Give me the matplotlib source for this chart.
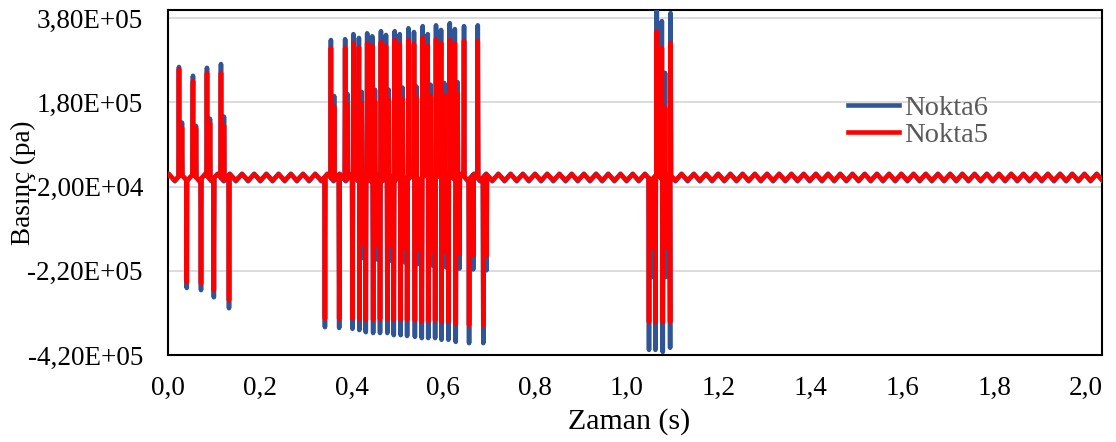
import numpy as np
import matplotlib
matplotlib.use("Agg")
import matplotlib.pyplot as plt
from matplotlib.ticker import FuncFormatter, MultipleLocator

# Background pressure ripple: alternating trough / crest levels (Pa)
ripple_start = -0.0116        # time of first trough (s)
ripple_half_period = 0.0133   # spacing between successive extremes (s)
ripple_end = 2.06
ripple_n6 = [-7500, 10500]    # trough, crest
ripple_n5 = [-5000, 9000]

# Pressure spikes: time (s), Nokta6 peak (Pa), Nokta5 peak (Pa)
spike_t = [
    0.024, 0.0305, 0.041, 0.0545, 0.061, 0.072, 0.085, 0.0915, 0.100, 0.1155, 0.122, 0.133,
    0.342, 0.355, 0.362, 0.373, 0.386, 0.391, 0.402, 0.404, 0.416, 0.417, 0.422, 0.424,
    0.431, 0.434, 0.445, 0.447, 0.451, 0.455, 0.462, 0.464, 0.475, 0.478, 0.481, 0.485,
    0.492, 0.494, 0.505, 0.507, 0.511, 0.516, 0.521, 0.524, 0.536, 0.538, 0.541, 0.545,
    0.553, 0.555, 0.566, 0.567, 0.572, 0.577, 0.582, 0.584, 0.595, 0.596, 0.602, 0.606,
    0.611, 0.614, 0.625, 0.627, 0.631, 0.635, 0.645, 0.656, 0.665, 0.675, 0.687, 0.694,
    1.048, 1.055, 1.062, 1.065, 1.076, 1.078, 1.083, 1.0845, 1.094, 1.095,
]
spike_n6 = [
    264e3, 132e3, -261e3, 243e3, 124e3, -266e3, 262e3, 141e3, -283e3, 271e3, 146e3, -309e3,
    -354e3, 328e3, 195e3, -356e3, 330e3, 200e3, -358e3, 342e3, 333e3, -361e3, 205e3, -190e3,
    -366e3, 344e3, 337e3, -368e3, 210e3, -193e3, -368e3, 349e3, 340e3, -368e3, 210e3, -196e3,
    -373e3, 349e3, 342e3, -373e3, 215e3, -200e3, -375e3, 356e3, 347e3, -377e3, 218e3, -204e3,
    -380e3, 361e3, 342e3, -380e3, 222e3, -208e3, -380e3, 363e3, 352e3, -384e3, 226e3, -212e3,
    -384e3, 368e3, 354e3, -389e3, 228e3, -215e3, 361e3, -392e3, -217e3, 363e3, -392e3, -219e3,
    -408e3, -235e3, -408e3, 398e3, 373e3, -413e3, 250e3, -235e3, -403e3, 392e3,
]
spike_n5 = [
    259e3, 120e3, -247e3, 231e3, 118e3, -250e3, 250e3, 131e3, -266e3, 250e3, 125e3, -290e3,
    -334e3, 309e3, 170e3, -334e3, 309e3, 175e3, -333e3, 321e3, 311e3, -334e3, 178e3, -155e3,
    -337e3, 321e3, 314e3, -337e3, 182e3, -158e3, -335e3, 323e3, 314e3, -334e3, 185e3, -161e3,
    -337e3, 328e3, 318e3, -336e3, 188e3, -165e3, -337e3, 328e3, 318e3, -338e3, 190e3, -169e3,
    -340e3, 333e3, 314e3, -339e3, 195e3, -173e3, -338e3, 330e3, 321e3, -341e3, 198e3, -177e3,
    -341e3, 328e3, 321e3, -346e3, 200e3, -180e3, 326e3, -349e3, -182e3, 326e3, -349e3, -185e3,
    -342e3, -165e3, -342e3, 349e3, 309e3, -342e3, 167e3, -165e3, -342e3, 321e3,
]

x_ticks_step = 0.2
y_ticks = [-4.2e5, -2.2e5, -2.0e4, 1.8e5, 3.8e5]

BLUE = "#2F5597"
RED = "#FF0000"
SPIKE_HALF_WIDTH = 0.0009


def build_series(levels, peaks):
    t_r = np.arange(ripple_start, ripple_end, ripple_half_period)
    v_r = np.resize(np.asarray(levels, dtype=float), t_r.size)
    ts, vs = [t_r], [v_r]
    for t, p in zip(spike_t, peaks):
        tt = np.array([t - SPIKE_HALF_WIDTH, t, t + SPIKE_HALF_WIDTH])
        base = np.interp(tt, t_r, v_r)
        base[1] = p
        ts.append(tt)
        vs.append(base)
    t_all = np.concatenate(ts)
    v_all = np.concatenate(vs)
    order = np.argsort(t_all, kind="stable")
    return t_all[order], v_all[order]


plt.rcParams["font.family"] = ["Liberation Serif", "DejaVu Serif"]

fig = plt.figure(figsize=(11.16, 4.42), dpi=100)
ax = fig.add_axes([0.1505, 0.197, 0.837, 0.781])

t6, v6 = build_series(ripple_n6, spike_n6)
t5, v5 = build_series(ripple_n5, spike_n5)
ax.plot(t6, v6, color=BLUE, lw=3.3, label="Nokta6", solid_joinstyle="round", zorder=3)
ax.plot(t5, v5, color=RED, lw=3.3, label="Nokta5", solid_joinstyle="round", zorder=4)

ax.set_xlim(0, 2.035)
ax.set_ylim(-4.2e5, 4.0e5)
ax.set_yticks(y_ticks)
ax.xaxis.set_major_locator(MultipleLocator(x_ticks_step))
ax.yaxis.set_major_formatter(FuncFormatter(lambda v, _: f"{v:.2E}".replace(".", ",")))
ax.xaxis.set_major_formatter(FuncFormatter(lambda v, _: f"{v:.1f}".replace(".", ",")))
ax.tick_params(axis="both", length=0, labelsize=19.5, colors="black")
ax.tick_params(axis="y", pad=18)
ax.tick_params(axis="x", pad=15)
ax.grid(axis="y", color="#D9D9D9", lw=1.3, zorder=0)
ax.set_axisbelow(True)
for s in ax.spines.values():
    s.set_color("black")
    s.set_linewidth(1.5)

ax.set_xlabel("Zaman (s)", fontsize=21.5)
ax.xaxis.set_label_coords(0.494, -0.155)
ax.set_ylabel("Basınç (pa)", fontsize=19.5, labelpad=-6)

leg = ax.legend(loc="upper left", bbox_to_anchor=(0.716, 0.785), frameon=False,
                fontsize=20.5, handlelength=1.8, handletextpad=0.15, labelspacing=0.02,
                borderaxespad=0)
for txt in leg.get_texts():
    txt.set_color("#595959")

fig.savefig("out.png", dpi=100)
